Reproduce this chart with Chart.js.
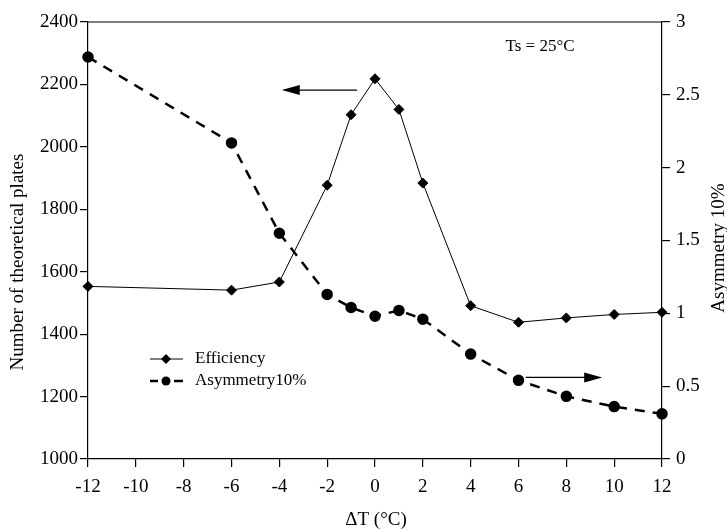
<!DOCTYPE html>
<html>
<head>
<meta charset="utf-8">
<script src="https://cdn.jsdelivr.net/npm/chart.js@4"></script>
<style>
  body { margin: 0; background: #fff; }
  #wrap { width: 727px; height: 530px; }
</style>
</head>
<body>
<div id="wrap"><canvas id="chart" width="727" height="530"></canvas></div>
<script>
// temperature offsets (°C)
const deltaT = [-12, -6, -4, -2, -1, 0, 1, 2, 4, 6, 8, 10, 12];
// number of theoretical plates
const efficiency = [1553, 1541, 1567, 1877, 2103, 2218, 2120, 1884, 1491, 1438, 1452, 1463, 1470];
// asymmetry at 10% peak height
const asymmetry = [2.76, 2.17, 1.55, 1.13, 1.04, 0.98, 1.02, 0.96, 0.72, 0.54, 0.43, 0.36, 0.31];

const xTicks = [-12, -10, -8, -6, -4, -2, 0, 2, 4, 6, 8, 10, 12];
const leftTicks = [1000, 1200, 1400, 1600, 1800, 2000, 2200, 2400];
const rightTicks = [0, 0.5, 1, 1.5, 2, 2.5, 3];

const font = "'Liberation Serif', 'DejaVu Serif', serif";

function toPoints(xs, ys) {
    return xs.map((x, i) => ({ x: x, y: ys[i] }));
}

function arrow(ctx, x1, y1, x2, y2) {
    let ang = Math.atan2(y2 - y1, x2 - x1);
    ctx.beginPath();
    ctx.moveTo(x1, y1);
    ctx.lineTo(x2 - 16 * Math.cos(ang), y2 - 16 * Math.sin(ang));
    ctx.stroke();
    ctx.beginPath();
    ctx.moveTo(x2, y2);
    ctx.lineTo(x2 - 18 * Math.cos(ang) + 5 * Math.sin(ang), y2 - 18 * Math.sin(ang) - 5 * Math.cos(ang));
    ctx.lineTo(x2 - 18 * Math.cos(ang) - 5 * Math.sin(ang), y2 - 18 * Math.sin(ang) + 5 * Math.cos(ang));
    ctx.closePath();
    ctx.fill();
}

function vtext(ctx, text, x, y) {
    ctx.save();
    ctx.translate(x, y);
    ctx.rotate(-Math.PI / 2);
    ctx.fillText(text, 0, 0);
    ctx.restore();
}

const extras = {
    id: "extras",
    afterDraw(chart) {
        const ctx = chart.ctx;
        const a = chart.chartArea;
        const x = chart.scales.x, yl = chart.scales.y, yr = chart.scales.y2;
        ctx.save();
        ctx.strokeStyle = "#000";
        ctx.fillStyle = "#000";
        ctx.lineWidth = 1.2;
        // top frame line
        ctx.beginPath();
        ctx.moveTo(a.left, a.top);
        ctx.lineTo(a.right, a.top);
        ctx.stroke();

        // arrows pointing to their axes
        arrow(ctx, x.getPixelForValue(-0.75), yl.getPixelForValue(2182), x.getPixelForValue(-3.9), yl.getPixelForValue(2182));
        arrow(ctx, x.getPixelForValue(6.3), yr.getPixelForValue(0.56), x.getPixelForValue(9.5), yr.getPixelForValue(0.56));

        // annotation
        ctx.font = "17px " + font;
        ctx.textAlign = "center";
        ctx.textBaseline = "middle";
        ctx.fillText("Ts = 25°C", x.getPixelForValue(6.9), yl.getPixelForValue(2320));

        // axis titles
        ctx.font = "19px " + font;
        ctx.fillText("ΔT (°C)", (a.left + a.right) / 2 + 1, 520);
        vtext(ctx, "Number of theoretical plates", 18, 262);
        vtext(ctx, "Asymmetry 10%", 719, 248);

        // legend
        ctx.font = "17px " + font;
        ctx.textAlign = "left";
        let lx = a.left + 62, ly = 359;
        ctx.lineWidth = 1;
        ctx.beginPath();
        ctx.moveTo(lx, ly);
        ctx.lineTo(lx + 33, ly);
        ctx.stroke();
        ctx.beginPath();
        ctx.moveTo(lx + 16, ly - 5);
        ctx.lineTo(lx + 21, ly);
        ctx.lineTo(lx + 16, ly + 5);
        ctx.lineTo(lx + 11, ly);
        ctx.closePath();
        ctx.fill();
        ctx.fillText("Efficiency", lx + 45, ly);

        ly = 381;
        ctx.lineWidth = 2.5;
        ctx.beginPath();
        ctx.moveTo(lx, ly);
        ctx.lineTo(lx + 8, ly);
        ctx.moveTo(lx + 24, ly);
        ctx.lineTo(lx + 33, ly);
        ctx.stroke();
        ctx.beginPath();
        ctx.arc(lx + 16, ly, 4.5, 0, Math.PI * 2);
        ctx.fill();
        ctx.fillText("Asymmetry10%", lx + 45, ly);
        ctx.restore();
    }
};

new Chart(document.getElementById("chart"), {
    type: "scatter",
    data: {
        datasets: [
            {
                label: "Efficiency",
                data: toPoints(deltaT, efficiency),
                yAxisID: "y",
                showLine: true,
                borderColor: "#000",
                backgroundColor: "#000",
                borderWidth: 1,
                pointStyle: "rectRot",
                pointRadius: 5,
                tension: 0,
                clip: false,
            },
            {
                label: "Asymmetry10%",
                data: toPoints(deltaT, asymmetry),
                yAxisID: "y2",
                showLine: true,
                borderColor: "#000",
                backgroundColor: "#000",
                borderWidth: 2.5,
                borderDash: [10, 8],
                pointStyle: "circle",
                pointRadius: 4.5,
                tension: 0,
                clip: false,
            },
        ],
    },
    options: {
        responsive: false,
        animation: false,
        layout: { padding: { top: 22, left: 0, right: 0, bottom: 0 } },
        plugins: {
            legend: { display: false },
            tooltip: { enabled: false },
        },
        scales: {
            x: {
                type: "linear",
                min: -12,
                max: 12,
                afterBuildTicks: (s) => { s.ticks = xTicks.map(v => ({ value: v })); },
                afterFit: (s) => { s.height = 71; },
                grid: { drawOnChartArea: false, drawTicks: true, tickLength: 8, color: "#000", lineWidth: 1.2 },
                border: { display: true, color: "#000", width: 1.2 },
                ticks: { color: "#000", font: { family: font, size: 19 }, padding: 9, maxRotation: 0, callback: (v) => String(v) },
                title: { display: false },
            },
            y: {
                position: "left",
                min: 1000,
                max: 2400,
                afterBuildTicks: (s) => { s.ticks = leftTicks.map(v => ({ value: v })); },
                afterFit: (s) => { s.width = 88; },
                grid: { drawOnChartArea: false, drawTicks: true, tickLength: 8, color: "#000", lineWidth: 1.2 },
                border: { display: true, color: "#000", width: 1.2 },
                ticks: { color: "#000", font: { family: font, size: 19 }, padding: 2, callback: (v) => String(v) },
                title: { display: false },
            },
            y2: {
                position: "right",
                min: 0,
                max: 3,
                afterBuildTicks: (s) => { s.ticks = rightTicks.map(v => ({ value: v })); },
                afterFit: (s) => { s.width = 65; },
                grid: { drawOnChartArea: false, drawTicks: true, tickLength: 8, color: "#000", lineWidth: 1.2 },
                border: { display: true, color: "#000", width: 1.2 },
                ticks: { color: "#000", font: { family: font, size: 19 }, padding: 6, callback: (v) => String(v) },
                title: { display: false },
            },
        },
    },
    plugins: [extras],
});
</script>
</body>
</html>
